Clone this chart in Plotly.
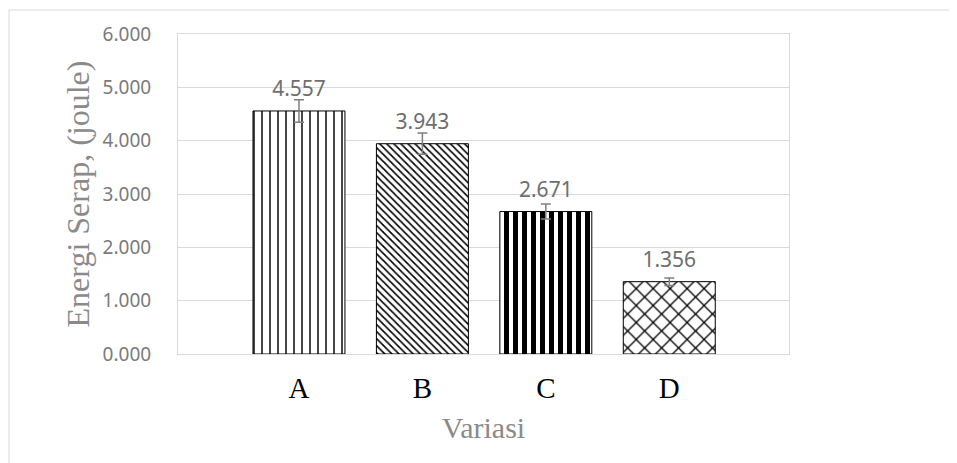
import plotly.graph_objects as go

categories = ["A", "B", "C", "D"]
values = [4.557, 3.943, 2.671, 1.356]
errors = [0.21, 0.20, 0.14, 0.07]
value_labels = ["4.557", "3.943", "2.671", "1.356"]
patterns = ["|", "\\", "|", "x"]
pattern_sizes = [8, 5, 9, 12]
pattern_solidity = [0.18, 0.32, 0.55, 0.2]
y_ticks = [0, 1, 2, 3, 4, 5, 6]

GRID = "#d9d9d9"
TXT = "#7a7a7a"

fig = go.Figure()
fig.add_trace(go.Bar(
    x=categories, y=values, width=0.745,
    marker=dict(
        color="white",
        line=dict(color="black", width=1),
        pattern=dict(shape=patterns, size=pattern_sizes, solidity=pattern_solidity,
                     fgcolor="black", bgcolor="white", fillmode="replace"),
    ),
    error_y=dict(type="data", array=errors, visible=True, color="#808080",
                 thickness=1.5, width=5),
    showlegend=False, hoverinfo="skip",
))
fig.add_trace(go.Scatter(
    x=categories, y=values, mode="markers+text", text=value_labels,
    textposition="top center",
    marker=dict(size=14, color="rgba(0,0,0,0)"),
    textfont=dict(family="Noto Sans", size=21, color="#6e6e6e"),
    showlegend=False, hoverinfo="skip", cliponaxis=False,
))

fig.update_layout(
    width=949, height=455,
    margin=dict(l=170, r=168, t=26, b=109),
    paper_bgcolor="white", plot_bgcolor="white",
    xaxis=dict(
        type="category", range=[-0.98, 3.97],
        showgrid=False, zeroline=False,
        showline=True, linecolor=GRID, linewidth=1, mirror=True,
        tickfont=dict(family="Liberation Serif", size=29, color="black"),
        ticklabelstandoff=8,
        title=dict(text="Variasi", standoff=14,
                   font=dict(family="Liberation Serif", size=30, color="#8a8a8a")),
    ),
    yaxis=dict(
        range=[0, 6], tickvals=y_ticks, tickformat=".3f",
        showgrid=True, gridcolor=GRID, gridwidth=1,
        zeroline=False,
        showline=True, linecolor=GRID, linewidth=1, mirror=True,
        tickfont=dict(family="Noto Sans", size=19, color=TXT),
        ticklabelstandoff=22,
        title=dict(text="Energi Serap, (joule)", standoff=3,
                   font=dict(family="Liberation Serif", size=32, color="#8a8a8a")),
    ),
    shapes=[dict(type="rect", xref="paper", yref="paper",
                 x0=-0.2766, x1=2.0, y0=-1.0, y1=1.075,
                 line=dict(color=GRID, width=1), fillcolor="rgba(0,0,0,0)",
                 layer="below")],
)

fig.write_html("out.html")
